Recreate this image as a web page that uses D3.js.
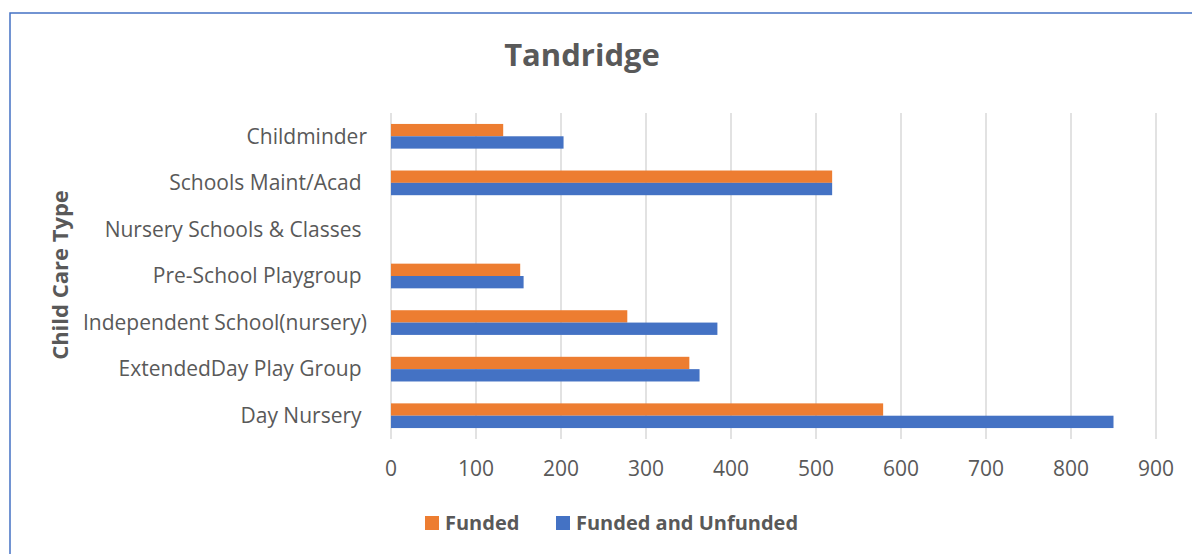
<!doctype html>
<html lang="en">
  <head>
    <meta charset="utf-8">
    <title>Tandridge</title>
    <script src="https://d3js.org/d3.v7.min.js"></script>
    <style>
      body { margin: 0; background: #fff; }
      svg text { font-family: "Open Sans", "Noto Sans", sans-serif; fill: #595959; }
    </style>
  </head>

  <body>
    <svg width="1192" height="554"></svg>

    <script>
      // data, top to bottom
      var categories = ['Childminder', 'Schools Maint/Acad ', 'Nursery Schools & Classes ', 'Pre-School Playgroup ',
        'Independent School(nursery)', 'ExtendedDay Play Group ', 'Day Nursery '];
      var funded = [132, 519, 0, 152, 278, 351, 579];
      var fundedAndUnfunded = [203, 519, 0, 156, 384, 363, 850];
      var seriesNames = ['Funded', 'Funded and Unfunded'];
      var seriesColors = ['#ED7D31', '#4472C4'];
      var xTicks = [0, 100, 200, 300, 400, 500, 600, 700, 800, 900];

      var svg = d3.select('svg');

      // outer chart frame (only top & left edges are visible)
      svg.append('rect')
        .attr('x', 10).attr('y', 13)
        .attr('width', 1300).attr('height', 700)
        .style('fill', 'none').style('stroke', '#4472C4').style('stroke-width', 1.5);

      var margin = {left: 391, right: 1156, top: 113, bottom: 439};

      var x = d3.scaleLinear().domain([0, 900]).range([margin.left, margin.right]);
      var y = d3.scaleBand().domain(categories).range([margin.top, margin.bottom]).paddingInner(0.47).paddingOuter(0.235);
      var inner = d3.scaleBand().domain(seriesNames).range([0, y.bandwidth()]);

      // gridlines
      svg.append('g').selectAll('line').data(xTicks).enter().append('line')
        .attr('x1', function(d){ return x(d); }).attr('x2', function(d){ return x(d); })
        .attr('y1', margin.top).attr('y2', margin.bottom)
        .style('stroke', '#d9d9d9').style('stroke-width', 1.5);

      // x tick labels
      svg.append('g').selectAll('text').data(xTicks).enter().append('text')
        .attr('x', function(d){ return x(d); })
        .attr('y', 476)
        .attr('text-anchor', 'middle')
        .style('font-size', '21px')
        .text(function(d){ return d; });

      // bars
      var rows = categories.map(function(c, i){
        return {cat: c, values: [funded[i], fundedAndUnfunded[i]]};
      });

      var groups = svg.append('g').selectAll('g').data(rows).enter().append('g')
        .attr('transform', function(d){ return 'translate(0,' + y(d.cat) + ')'; });

      groups.selectAll('rect').data(function(d){ return d.values; }).enter().append('rect')
        .attr('x', x(0))
        .attr('y', function(d, i){ return inner(seriesNames[i]); })
        .attr('width', function(d){ return x(d) - x(0); })
        .attr('height', inner.bandwidth())
        .style('fill', function(d, i){ return seriesColors[i]; });

      // category labels
      svg.append('g').selectAll('text').data(categories).enter().append('text')
        .attr('x', 367)
        .attr('y', function(d){ return y(d) + y.bandwidth() / 2; })
        .attr('dy', '0.35em')
        .attr('text-anchor', 'end')
        .style('font-size', '21px')
        .style('white-space', 'pre')
        .text(function(d){ return d; });

      // title
      svg.append('text')
        .attr('x', 582).attr('y', 66)
        .attr('text-anchor', 'middle')
        .style('font-size', '31px').style('font-weight', 'bold')
        .text('Tandridge');

      // y axis title
      svg.append('text')
        .attr('transform', 'translate(68,275) rotate(-90)')
        .attr('text-anchor', 'middle')
        .style('font-size', '22px').style('font-weight', 'bold')
        .text('Child Care Type');

      // legend
      var legendX = [425, 556];
      var legend = svg.append('g').selectAll('g').data(seriesNames).enter().append('g')
        .attr('transform', function(d, i){ return 'translate(' + legendX[i] + ',516)'; });
      legend.append('rect')
        .attr('width', 14).attr('height', 14)
        .style('fill', function(d, i){ return seriesColors[i]; });
      legend.append('text')
        .attr('x', 20).attr('y', 7).attr('dy', '0.35em')
        .style('font-size', '20px').style('font-weight', 'bold')
        .text(function(d){ return d; });
    </script>
  </body>
</html>
